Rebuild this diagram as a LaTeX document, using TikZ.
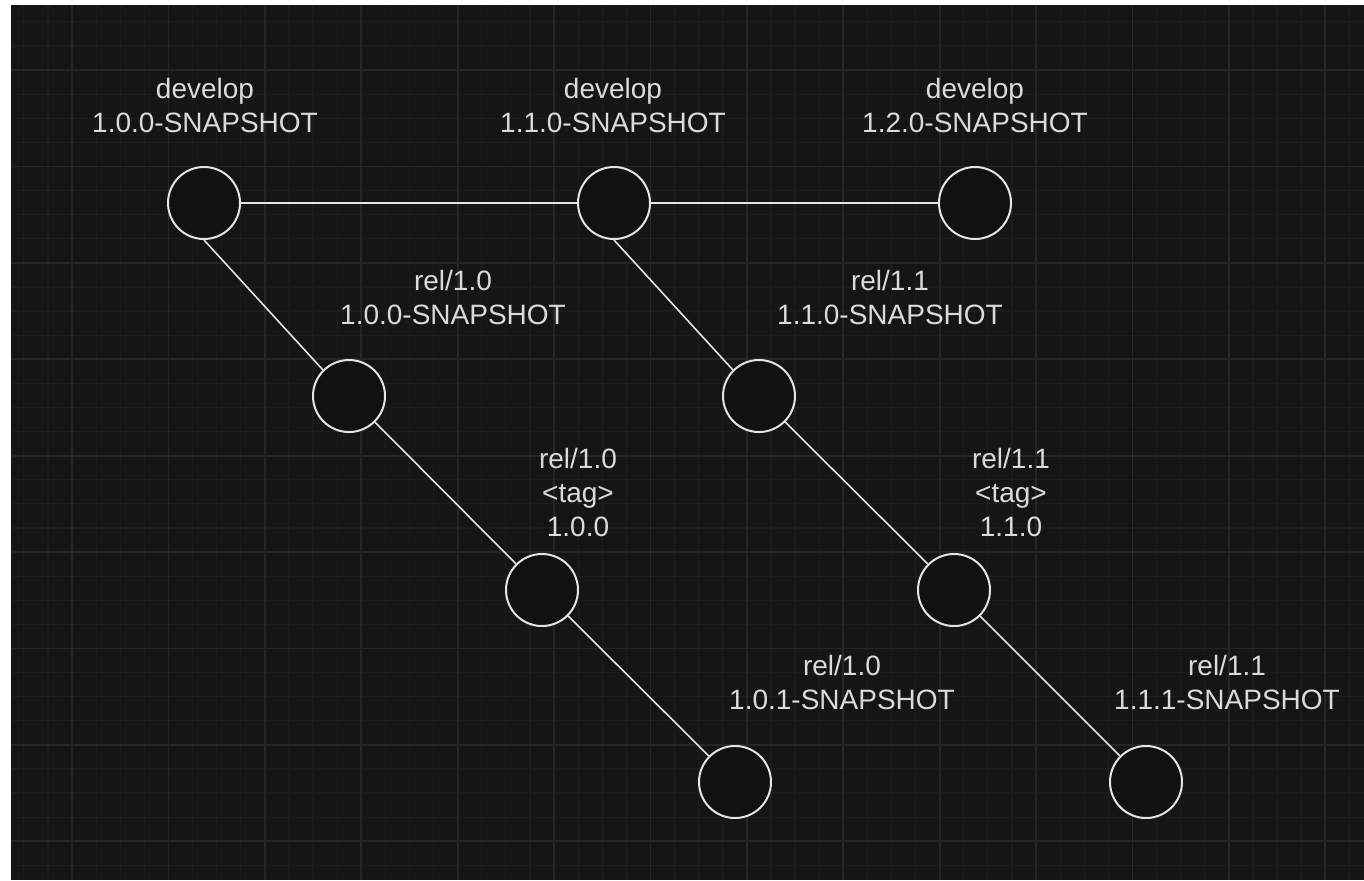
\documentclass[tikz,border=0pt]{standalone}
\usepackage{fontspec}
\setmainfont{Liberation Sans}
\usepackage{tikz}
\usetikzlibrary{positioning}
\definecolor{canvas}{RGB}{21,21,21}
\definecolor{holefill}{RGB}{17,17,17}
\definecolor{gridminor}{RGB}{28,28,28}
\definecolor{gridmajor}{RGB}{38,38,38}
\definecolor{ink}{RGB}{228,228,228}
\definecolor{labelgray}{RGB}{218,218,218}
\tikzset{
  commit/.style={circle, draw=ink, line width=1pt, fill=holefill,
    minimum size=36pt, inner sep=0pt},
  lbl/.style={align=center, text=labelgray, inner sep=0pt,
    font=\fontsize{14}{17}\selectfont},
  branch/.style={draw=ink, line width=0.8pt},
  minorline/.style={draw=gridminor, line width=0.6pt},
  majorline/.style={draw=gridmajor, line width=0.9pt},
}

\begin{document}
\begin{tikzpicture}[x=0.5pt, y=-0.5pt]
  \useasboundingbox (0,0) rectangle (1364,880);
  \fill[white] (0,0) rectangle (1364,880);
  \fill[canvas] (11,5) rectangle (1364,880);
  % grid
  \begin{scope}
    \clip (11,5) rectangle (1364,880);
    \foreach \i in {-2,...,54}
      \draw[minorline] ({72+24.1*\i},5) -- ({72+24.1*\i},880);
    \foreach \j in {-2,...,34}
      \draw[minorline] (11,{70+24.1*\j}) -- (1364,{70+24.1*\j});
    \foreach \i in {0,...,13}
      \draw[majorline] ({72+96.4*\i},5) -- ({72+96.4*\i},880);
    \foreach \j in {0,...,8}
      \draw[majorline] (11,{70+96.4*\j}) -- (1364,{70+96.4*\j});
  \end{scope}

  \node[commit] (dev10) at (204,203) {};
  \node[commit] (dev11) at (614,203) {};
  \node[commit] (dev12) at (975,203) {};
  \node[commit] (rel10snap) at (349,396) {};
  \node[commit] (rel10tag) at (542,590) {};
  \node[commit] (rel101) at (735,782) {};
  \node[commit] (rel11snap) at (759,396) {};
  \node[commit] (rel11tag) at (954,590) {};
  \node[commit] (rel111) at (1146,782) {};

  \node[lbl] (dev10lbl) at (205,105) {develop\\1.0.0-SNAPSHOT};
  \node[lbl] (dev11lbl) at (613,105) {develop\\1.1.0-SNAPSHOT};
  \node[lbl] (dev12lbl) at (975,105) {develop\\1.2.0-SNAPSHOT};
  \node[lbl] (rel10snaplbl) at (453,297) {rel/1.0\\1.0.0-SNAPSHOT};
  \node[lbl] (rel11snaplbl) at (890,297) {rel/1.1\\1.1.0-SNAPSHOT};
  \node[lbl] (rel10taglbl) at (578,492) {rel/1.0\\<tag>\\1.0.0};
  \node[lbl] (rel11taglbl) at (1011,492) {rel/1.1\\<tag>\\1.1.0};
  \node[lbl] (rel101lbl) at (842,682) {rel/1.0\\1.0.1-SNAPSHOT};
  \node[lbl] (rel111lbl) at (1227,682) {rel/1.1\\1.1.1-SNAPSHOT};

  \draw[branch, line width=1pt] (dev10) -- (dev11);
  \draw[branch, line width=1pt] (dev11) -- (dev12);
  \draw[branch] (dev10.south) -- (rel10snap.north west);
  \draw[branch] (rel10snap) -- (rel10tag);
  \draw[branch] (rel10tag) -- (rel101);
  \draw[branch] (dev11.south) -- (rel11snap.north west);
  \draw[branch] (rel11snap) -- (rel11tag);
  \draw[branch] (rel11tag) -- (rel111);
\end{tikzpicture}
\end{document}
